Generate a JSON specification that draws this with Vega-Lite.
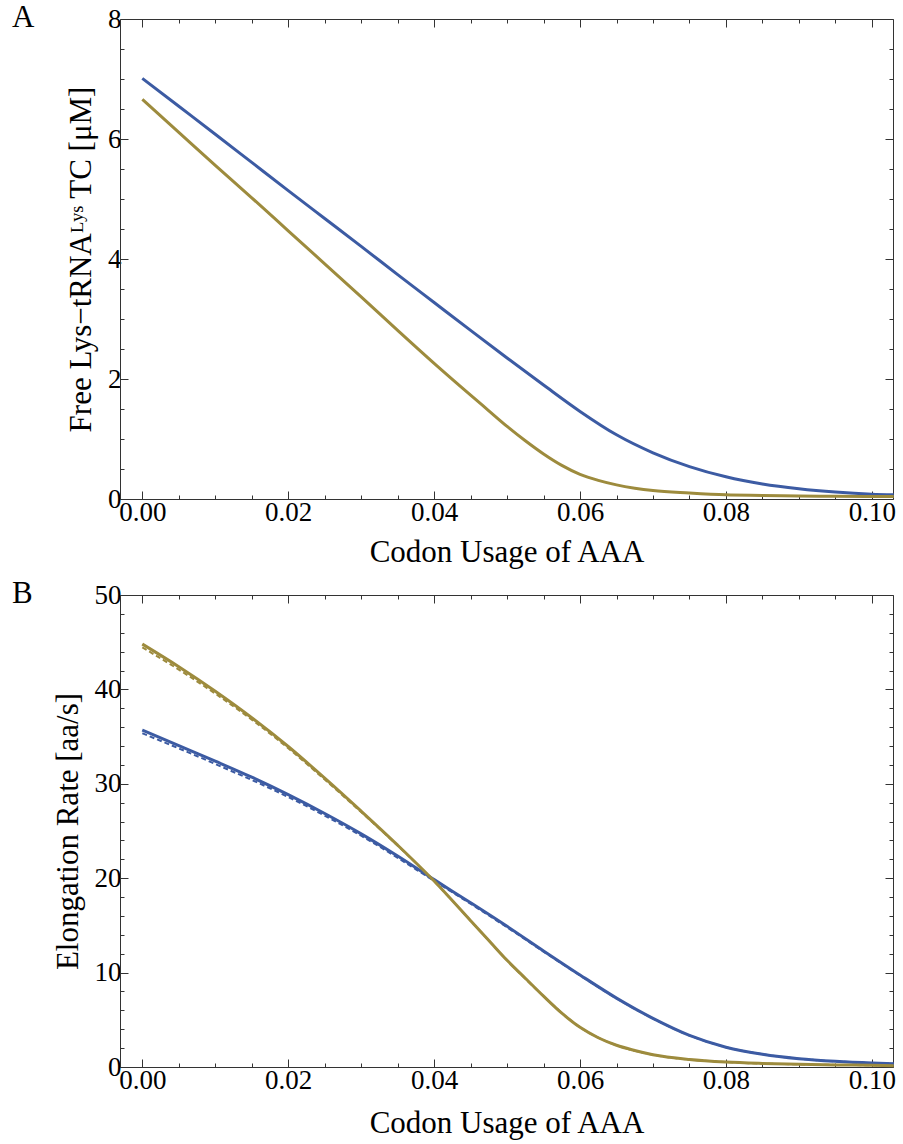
{
  "$schema": "https://vega.github.io/schema/vega-lite/v6.json",
  "padding": {"left": 12, "top": 2, "right": 8, "bottom": 3},
  "background": "white",
  "config": {
    "font": "Liberation Serif",
    "view": {"stroke": null},
    "axis": {
      "grid": false,
      "domainColor": "#333333",
      "tickColor": "#333333",
      "labelFont": "Liberation Serif",
      "titleFont": "Liberation Serif",
      "labelFontSize": 27,
      "titleFontSize": 31,
      "labelColor": "black",
      "titleColor": "black",
      "titleFontWeight": "normal",
      "domainWidth": 1,
      "tickWidth": 1,
      "labelFlush": false,
      "labelOverlap": false
    },
    "title": {"font": "Liberation Serif", "fontSize": 31, "fontWeight": "normal", "anchor": "start", "frame": "group", "color": "black"},
    "concat": {"spacing": 11}
  },
  "datasets": {
    "A": [
      {"x": 0, "y": 7.01, "s": "blue"},
      {"x": 0.005, "y": 6.545, "s": "blue"},
      {"x": 0.01, "y": 6.08, "s": "blue"},
      {"x": 0.015, "y": 5.61, "s": "blue"},
      {"x": 0.02, "y": 5.14, "s": "blue"},
      {"x": 0.025, "y": 4.675, "s": "blue"},
      {"x": 0.03, "y": 4.21, "s": "blue"},
      {"x": 0.035, "y": 3.74, "s": "blue"},
      {"x": 0.04, "y": 3.275, "s": "blue"},
      {"x": 0.045, "y": 2.81, "s": "blue"},
      {"x": 0.05, "y": 2.35, "s": "blue"},
      {"x": 0.055, "y": 1.9, "s": "blue"},
      {"x": 0.06, "y": 1.46, "s": "blue"},
      {"x": 0.065, "y": 1.07, "s": "blue"},
      {"x": 0.07, "y": 0.77, "s": "blue"},
      {"x": 0.075, "y": 0.54, "s": "blue"},
      {"x": 0.08, "y": 0.37, "s": "blue"},
      {"x": 0.085, "y": 0.25, "s": "blue"},
      {"x": 0.09, "y": 0.17, "s": "blue"},
      {"x": 0.095, "y": 0.115, "s": "blue"},
      {"x": 0.1, "y": 0.08, "s": "blue"},
      {"x": 0.103, "y": 0.07, "s": "blue"},
      {"x": 0, "y": 6.66, "s": "yellow"},
      {"x": 0.005, "y": 6.11, "s": "yellow"},
      {"x": 0.01, "y": 5.56, "s": "yellow"},
      {"x": 0.015, "y": 5.02, "s": "yellow"},
      {"x": 0.02, "y": 4.47, "s": "yellow"},
      {"x": 0.025, "y": 3.92, "s": "yellow"},
      {"x": 0.03, "y": 3.37, "s": "yellow"},
      {"x": 0.035, "y": 2.81, "s": "yellow"},
      {"x": 0.04, "y": 2.26, "s": "yellow"},
      {"x": 0.045, "y": 1.73, "s": "yellow"},
      {"x": 0.0475, "y": 1.47, "s": "yellow"},
      {"x": 0.05, "y": 1.21, "s": "yellow"},
      {"x": 0.0525, "y": 0.97, "s": "yellow"},
      {"x": 0.055, "y": 0.75, "s": "yellow"},
      {"x": 0.0575, "y": 0.56, "s": "yellow"},
      {"x": 0.06, "y": 0.41, "s": "yellow"},
      {"x": 0.0625, "y": 0.31, "s": "yellow"},
      {"x": 0.065, "y": 0.235, "s": "yellow"},
      {"x": 0.0675, "y": 0.18, "s": "yellow"},
      {"x": 0.07, "y": 0.14, "s": "yellow"},
      {"x": 0.075, "y": 0.1, "s": "yellow"},
      {"x": 0.08, "y": 0.07, "s": "yellow"},
      {"x": 0.085, "y": 0.06, "s": "yellow"},
      {"x": 0.09, "y": 0.05, "s": "yellow"},
      {"x": 0.095, "y": 0.045, "s": "yellow"},
      {"x": 0.1, "y": 0.04, "s": "yellow"},
      {"x": 0.103, "y": 0.04, "s": "yellow"}
    ],
    "B": [
      {"x": 0, "y": 35.7, "s": "blue", "d": "solid"},
      {"x": 0.005, "y": 34.05, "s": "blue", "d": "solid"},
      {"x": 0.01, "y": 32.4, "s": "blue", "d": "solid"},
      {"x": 0.015, "y": 30.7, "s": "blue", "d": "solid"},
      {"x": 0.02, "y": 28.85, "s": "blue", "d": "solid"},
      {"x": 0.025, "y": 26.85, "s": "blue", "d": "solid"},
      {"x": 0.03, "y": 24.7, "s": "blue", "d": "solid"},
      {"x": 0.035, "y": 22.35, "s": "blue", "d": "solid"},
      {"x": 0.04, "y": 19.85, "s": "blue", "d": "solid"},
      {"x": 0.045, "y": 17.4, "s": "blue", "d": "solid"},
      {"x": 0.05, "y": 14.9, "s": "blue", "d": "solid"},
      {"x": 0.055, "y": 12.3, "s": "blue", "d": "solid"},
      {"x": 0.06, "y": 9.75, "s": "blue", "d": "solid"},
      {"x": 0.065, "y": 7.3, "s": "blue", "d": "solid"},
      {"x": 0.07, "y": 5.15, "s": "blue", "d": "solid"},
      {"x": 0.075, "y": 3.35, "s": "blue", "d": "solid"},
      {"x": 0.08, "y": 2.1, "s": "blue", "d": "solid"},
      {"x": 0.085, "y": 1.35, "s": "blue", "d": "solid"},
      {"x": 0.09, "y": 0.88, "s": "blue", "d": "solid"},
      {"x": 0.095, "y": 0.6, "s": "blue", "d": "solid"},
      {"x": 0.1, "y": 0.42, "s": "blue", "d": "solid"},
      {"x": 0.103, "y": 0.35, "s": "blue", "d": "solid"},
      {"x": 0, "y": 44.8, "s": "yellow", "d": "solid"},
      {"x": 0.005, "y": 42.4, "s": "yellow", "d": "solid"},
      {"x": 0.01, "y": 39.8, "s": "yellow", "d": "solid"},
      {"x": 0.015, "y": 37.0, "s": "yellow", "d": "solid"},
      {"x": 0.02, "y": 33.95, "s": "yellow", "d": "solid"},
      {"x": 0.025, "y": 30.6, "s": "yellow", "d": "solid"},
      {"x": 0.03, "y": 27.1, "s": "yellow", "d": "solid"},
      {"x": 0.035, "y": 23.5, "s": "yellow", "d": "solid"},
      {"x": 0.04, "y": 19.7, "s": "yellow", "d": "solid"},
      {"x": 0.045, "y": 15.5, "s": "yellow", "d": "solid"},
      {"x": 0.0475, "y": 13.4, "s": "yellow", "d": "solid"},
      {"x": 0.05, "y": 11.3, "s": "yellow", "d": "solid"},
      {"x": 0.0525, "y": 9.4, "s": "yellow", "d": "solid"},
      {"x": 0.055, "y": 7.5, "s": "yellow", "d": "solid"},
      {"x": 0.0575, "y": 5.7, "s": "yellow", "d": "solid"},
      {"x": 0.06, "y": 4.2, "s": "yellow", "d": "solid"},
      {"x": 0.0625, "y": 3.1, "s": "yellow", "d": "solid"},
      {"x": 0.065, "y": 2.3, "s": "yellow", "d": "solid"},
      {"x": 0.0675, "y": 1.75, "s": "yellow", "d": "solid"},
      {"x": 0.07, "y": 1.3, "s": "yellow", "d": "solid"},
      {"x": 0.075, "y": 0.8, "s": "yellow", "d": "solid"},
      {"x": 0.08, "y": 0.53, "s": "yellow", "d": "solid"},
      {"x": 0.085, "y": 0.38, "s": "yellow", "d": "solid"},
      {"x": 0.09, "y": 0.28, "s": "yellow", "d": "solid"},
      {"x": 0.095, "y": 0.22, "s": "yellow", "d": "solid"},
      {"x": 0.1, "y": 0.18, "s": "yellow", "d": "solid"},
      {"x": 0.103, "y": 0.14, "s": "yellow", "d": "solid"},
      {"x": 0, "y": 35.35, "s": "blue", "d": "dashed"},
      {"x": 0.01, "y": 32.1, "s": "blue", "d": "dashed"},
      {"x": 0.02, "y": 28.6, "s": "blue", "d": "dashed"},
      {"x": 0.03, "y": 24.5, "s": "blue", "d": "dashed"},
      {"x": 0.04, "y": 19.72, "s": "blue", "d": "dashed"},
      {"x": 0.05, "y": 14.8, "s": "blue", "d": "dashed"},
      {"x": 0.055, "y": 12.22, "s": "blue", "d": "dashed"},
      {"x": 0.06, "y": 9.7, "s": "blue", "d": "dashed"},
      {"x": 0.065, "y": 7.27, "s": "blue", "d": "dashed"},
      {"x": 0.07, "y": 5.13, "s": "blue", "d": "dashed"},
      {"x": 0.075, "y": 3.34, "s": "blue", "d": "dashed"},
      {"x": 0.08, "y": 2.1, "s": "blue", "d": "dashed"},
      {"x": 0.085, "y": 1.35, "s": "blue", "d": "dashed"},
      {"x": 0.09, "y": 0.88, "s": "blue", "d": "dashed"},
      {"x": 0.095, "y": 0.6, "s": "blue", "d": "dashed"},
      {"x": 0.1, "y": 0.42, "s": "blue", "d": "dashed"},
      {"x": 0.103, "y": 0.35, "s": "blue", "d": "dashed"},
      {"x": 0, "y": 44.45, "s": "yellow", "d": "dashed"},
      {"x": 0.005, "y": 42.1, "s": "yellow", "d": "dashed"},
      {"x": 0.01, "y": 39.55, "s": "yellow", "d": "dashed"},
      {"x": 0.015, "y": 36.8, "s": "yellow", "d": "dashed"},
      {"x": 0.02, "y": 33.77, "s": "yellow", "d": "dashed"},
      {"x": 0.025, "y": 30.45, "s": "yellow", "d": "dashed"},
      {"x": 0.03, "y": 27.0, "s": "yellow", "d": "dashed"},
      {"x": 0.035, "y": 23.45, "s": "yellow", "d": "dashed"},
      {"x": 0.04, "y": 19.68, "s": "yellow", "d": "dashed"},
      {"x": 0.045, "y": 15.5, "s": "yellow", "d": "dashed"},
      {"x": 0.05, "y": 11.3, "s": "yellow", "d": "dashed"},
      {"x": 0.055, "y": 7.5, "s": "yellow", "d": "dashed"},
      {"x": 0.06, "y": 4.2, "s": "yellow", "d": "dashed"},
      {"x": 0.065, "y": 2.3, "s": "yellow", "d": "dashed"},
      {"x": 0.07, "y": 1.3, "s": "yellow", "d": "dashed"},
      {"x": 0.08, "y": 0.53, "s": "yellow", "d": "dashed"},
      {"x": 0.09, "y": 0.28, "s": "yellow", "d": "dashed"},
      {"x": 0.1, "y": 0.18, "s": "yellow", "d": "dashed"},
      {"x": 0.103, "y": 0.14, "s": "yellow", "d": "dashed"}
    ]
  },
  "vconcat": [
    {
      "title": {"text": "A", "dx": -108, "dy": 33},
      "width": 773,
      "height": 480,
      "data": {"name": "A"},
      "resolve": {"axis": {"x": "independent", "y": "independent"}},
      "layer": [
        {
          "mark": {"type": "line", "strokeWidth": 3, "opacity": 0, "interpolate": "monotone"},
          "encoding": {
            "x": {"field": "x", "type": "quantitative", "scale": {"domain": [-0.00306, 0.1029], "nice": false, "zero": false},
              "axis": {"orient": "bottom", "title": "Codon Usage of AAA", "titlePadding": 8, "labelPadding": 8,
                "values": [0,0.005,0.01,0.015,0.02,0.025,0.03,0.035,0.04,0.045,0.05,0.055,0.06,0.065,0.07,0.075,0.08,0.085,0.09,0.095,0.1],
                "labelExpr": "round(datum.value*1000) % 20 == 0 ? format(datum.value, '.2f') : ''",
                "tickSize": {"condition": {"test": "round(datum.value*1000) % 20 == 0", "value": -8}, "value": -4}}},
            "y": {"field": "y", "type": "quantitative", "scale": {"domain": [0, 8], "nice": false},
              "axis": {"orient": "left", "title": "Free Lys−tRNAᴸʸˢ TC [μM]", "titlePadding": 10, "labelPadding": 7,
                "values": [0,0.5,1,1.5,2,2.5,3,3.5,4,4.5,5,5.5,6,6.5,7,7.5,8],
                "labelExpr": "datum.value % 2 == 0 ? format(datum.value, 'd') : ''",
                "tickSize": {"condition": {"test": "datum.value % 2 == 0", "value": -8}, "value": -4}}},
            "color": {"field": "s", "type": "nominal", "scale": {"domain": ["blue", "yellow"], "range": ["#3c5ba3", "#9d8b3d"]}, "legend": null}
          }
        },
        {
          "mark": {"type": "line", "strokeWidth": 3, "interpolate": "monotone"},
          "encoding": {
            "x": {"field": "x", "type": "quantitative",
              "axis": {"orient": "top", "title": null, "labels": false,
                "values": [0,0.005,0.01,0.015,0.02,0.025,0.03,0.035,0.04,0.045,0.05,0.055,0.06,0.065,0.07,0.075,0.08,0.085,0.09,0.095,0.1],
                "tickSize": {"condition": {"test": "round(datum.value*1000) % 20 == 0", "value": -8}, "value": -4}}},
            "y": {"field": "y", "type": "quantitative",
              "axis": {"orient": "right", "title": null, "labels": false,
                "values": [0,0.5,1,1.5,2,2.5,3,3.5,4,4.5,5,5.5,6,6.5,7,7.5,8],
                "tickSize": {"condition": {"test": "datum.value % 2 == 0", "value": -8}, "value": -4}}},
            "color": {"field": "s", "type": "nominal", "legend": null}
          }
        }
      ]
    },
    {
      "title": {"text": "B", "dx": -108, "dy": 33},
      "width": 773,
      "height": 472,
      "data": {"name": "B"},
      "resolve": {"axis": {"x": "independent", "y": "independent"}},
      "layer": [
        {
          "transform": [{"filter": "datum.d == 'dashed'"}],
          "mark": {"type": "line", "strokeWidth": 2, "strokeDash": [5, 3], "interpolate": "monotone"},
          "encoding": {
            "x": {"field": "x", "type": "quantitative", "scale": {"domain": [-0.00306, 0.1029], "nice": false, "zero": false},
              "axis": {"orient": "bottom", "title": "Codon Usage of AAA", "titlePadding": 11, "labelPadding": 8,
                "values": [0,0.005,0.01,0.015,0.02,0.025,0.03,0.035,0.04,0.045,0.05,0.055,0.06,0.065,0.07,0.075,0.08,0.085,0.09,0.095,0.1],
                "labelExpr": "round(datum.value*1000) % 20 == 0 ? format(datum.value, '.2f') : ''",
                "tickSize": {"condition": {"test": "round(datum.value*1000) % 20 == 0", "value": -8}, "value": -4}}},
            "y": {"field": "y", "type": "quantitative", "scale": {"domain": [0, 50], "nice": false},
              "axis": {"orient": "left", "title": "Elongation Rate [aa/s]", "titlePadding": 10, "labelPadding": 7,
                "values": [0,2,4,6,8,10,12,14,16,18,20,22,24,26,28,30,32,34,36,38,40,42,44,46,48,50],
                "labelExpr": "datum.value % 10 == 0 ? format(datum.value, 'd') : ''",
                "tickSize": {"condition": {"test": "datum.value % 10 == 0", "value": -8}, "value": -4}}},
            "color": {"field": "s", "type": "nominal", "scale": {"domain": ["blue", "yellow"], "range": ["#3c5ba3", "#9d8b3d"]}, "legend": null}
          }
        },
        {
          "transform": [{"filter": "datum.d == 'solid'"}],
          "mark": {"type": "line", "strokeWidth": 3, "interpolate": "monotone"},
          "encoding": {
            "x": {"field": "x", "type": "quantitative",
              "axis": {"orient": "top", "title": null, "labels": false,
                "values": [0,0.005,0.01,0.015,0.02,0.025,0.03,0.035,0.04,0.045,0.05,0.055,0.06,0.065,0.07,0.075,0.08,0.085,0.09,0.095,0.1],
                "tickSize": {"condition": {"test": "round(datum.value*1000) % 20 == 0", "value": -8}, "value": -4}}},
            "y": {"field": "y", "type": "quantitative",
              "axis": {"orient": "right", "title": null, "labels": false,
                "values": [0,2,4,6,8,10,12,14,16,18,20,22,24,26,28,30,32,34,36,38,40,42,44,46,48,50],
                "tickSize": {"condition": {"test": "datum.value % 10 == 0", "value": -8}, "value": -4}}},
            "color": {"field": "s", "type": "nominal", "legend": null}
          }
        }
      ]
    }
  ]
}
